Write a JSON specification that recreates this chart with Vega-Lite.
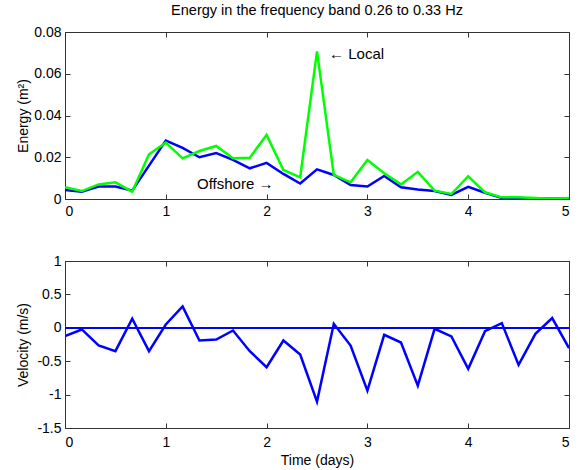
{
  "$schema": "https://vega.github.io/schema/vega-lite/v6.json",
  "background": "white",
  "padding": {"left": 16, "top": 2, "right": 13, "bottom": 5},
  "bounds": "flush",
  "spacing": 62,
  "config": {
    "font": "Liberation Sans",
    "view": {"stroke": "#333333", "strokeWidth": 1},
    "axis": {
      "grid": false,
      "domain": false,
      "tickSize": -5,
      "tickColor": "#333333",
      "labelFont": "Liberation Sans",
      "labelFontSize": 14,
      "labelColor": "black",
      "labelPadding": 9,
      "titleFont": "Liberation Sans",
      "titleFontSize": 14,
      "titleFontWeight": "normal",
      "titleColor": "black"
    },
    "title": {"font": "Liberation Sans", "fontSize": 14.5, "fontWeight": "normal", "color": "black"}
  },
  "datasets": {
    "series": [
      {"t": 0.0, "local": 0.0056, "offshore": 0.0043, "vel": -0.125},
      {"t": 0.1667, "local": 0.0038, "offshore": 0.0035, "vel": -0.025},
      {"t": 0.3333, "local": 0.007, "offshore": 0.006, "vel": -0.265},
      {"t": 0.5, "local": 0.008, "offshore": 0.006, "vel": -0.35},
      {"t": 0.6667, "local": 0.0035, "offshore": 0.004, "vel": 0.135},
      {"t": 0.8333, "local": 0.0214, "offshore": 0.016, "vel": -0.35},
      {"t": 1.0, "local": 0.027, "offshore": 0.028, "vel": 0.05},
      {"t": 1.1667, "local": 0.0195, "offshore": 0.0245, "vel": 0.32},
      {"t": 1.3333, "local": 0.023, "offshore": 0.02, "vel": -0.19},
      {"t": 1.5, "local": 0.0254, "offshore": 0.022, "vel": -0.175},
      {"t": 1.6667, "local": 0.0195, "offshore": 0.0187, "vel": -0.04},
      {"t": 1.8333, "local": 0.0198, "offshore": 0.0147, "vel": -0.35},
      {"t": 2.0, "local": 0.0307, "offshore": 0.0173, "vel": -0.59},
      {"t": 2.1667, "local": 0.0139, "offshore": 0.012, "vel": -0.19},
      {"t": 2.3333, "local": 0.0104, "offshore": 0.0074, "vel": -0.4},
      {"t": 2.5, "local": 0.0707, "offshore": 0.0142, "vel": -1.105},
      {"t": 2.6667, "local": 0.0115, "offshore": 0.0115, "vel": 0.06},
      {"t": 2.8333, "local": 0.008, "offshore": 0.0067, "vel": -0.265},
      {"t": 3.0, "local": 0.0187, "offshore": 0.006, "vel": -0.94},
      {"t": 3.1667, "local": 0.0123, "offshore": 0.011, "vel": -0.105},
      {"t": 3.3333, "local": 0.007, "offshore": 0.0056, "vel": -0.22},
      {"t": 3.5, "local": 0.013, "offshore": 0.0046, "vel": -0.865},
      {"t": 3.6667, "local": 0.004, "offshore": 0.0038, "vel": -0.015},
      {"t": 3.8333, "local": 0.0024, "offshore": 0.002, "vel": -0.13},
      {"t": 4.0, "local": 0.0109, "offshore": 0.0058, "vel": -0.615},
      {"t": 4.1667, "local": 0.0032, "offshore": 0.003, "vel": -0.05},
      {"t": 4.3333, "local": 0.0008, "offshore": 0.0005, "vel": 0.07},
      {"t": 4.5, "local": 0.0008, "offshore": 0.0004, "vel": -0.555},
      {"t": 4.6667, "local": 0.0005, "offshore": 0.0003, "vel": -0.09},
      {"t": 4.8333, "local": 0.0001, "offshore": 0.0001, "vel": 0.145},
      {"t": 5.0, "local": 0.0005, "offshore": 0.0003, "vel": -0.305}
    ],
    "labels": [
      {"t": 2.62, "e": 0.0695, "label": "← Local"},
      {"t": 1.31, "e": 0.0071, "label": "Offshore →"}
    ]
  },
  "vconcat": [
    {
      "width": 504,
      "height": 167,
      "title": {"text": "Energy in the frequency band 0.26 to 0.33 Hz", "anchor": "middle", "frame": "group", "offset": 7},
      "layer": [
        {
          "data": {"name": "series"},
          "mark": {"type": "line", "color": "#0000ff", "strokeWidth": 2.5, "clip": true},
          "encoding": {
            "x": {"field": "t", "type": "quantitative", "scale": {"domain": [0, 5], "nice": false}, "axis": {"title": null, "values": [0, 1, 2, 3, 4, 5], "format": "d", "labelPadding": 10}},
            "y": {"field": "offshore", "type": "quantitative", "scale": {"domain": [0, 0.08], "nice": false}, "axis": {"title": "Energy (m²)", "values": [0, 0.02, 0.04, 0.06, 0.08], "labelExpr": "'' + datum.value", "titlePadding": 3}}
          }
        },
        {
          "data": {"name": "series"},
          "mark": {"type": "line", "color": "#00ff00", "strokeWidth": 2.5, "clip": true},
          "encoding": {
            "x": {"field": "t", "type": "quantitative", "axis": {"orient": "top", "labels": false, "title": null, "values": [0, 1, 2, 3, 4, 5]}},
            "y": {"field": "local", "type": "quantitative", "axis": {"orient": "right", "labels": false, "title": null, "values": [0, 0.02, 0.04, 0.06, 0.08]}}
          }
        },
        {
          "data": {"name": "labels"},
          "mark": {"type": "text", "align": "left", "baseline": "middle", "fontSize": 15, "font": "Liberation Sans", "color": "black"},
          "encoding": {
            "x": {"field": "t", "type": "quantitative", "axis": null},
            "y": {"field": "e", "type": "quantitative", "axis": null},
            "text": {"field": "label"}
          }
        }
      ],
      "resolve": {"axis": {"x": "independent", "y": "independent"}}
    },
    {
      "width": 504,
      "height": 167,
      "layer": [
        {
          "data": {"name": "series"},
          "mark": {"type": "rule", "color": "#0000ff", "strokeWidth": 0.8},
          "encoding": {
            "y": {"datum": 0, "type": "quantitative", "scale": {"domain": [-1.5, 1], "nice": false}, "axis": {"title": "Velocity (m/s)", "values": [-1.5, -1, -0.5, 0, 0.5, 1], "labelExpr": "'' + datum.value", "titlePadding": 6}}
          }
        },
        {
          "data": {"name": "series"},
          "mark": {"type": "line", "color": "#0000ff", "strokeWidth": 2.5, "clip": true},
          "encoding": {
            "x": {"field": "t", "type": "quantitative", "scale": {"domain": [0, 5], "nice": false}, "axis": {"title": "Time (days)", "values": [0, 1, 2, 3, 4, 5], "format": "d", "labelPadding": 12, "titlePadding": 4}},
            "y": {"field": "vel", "type": "quantitative", "axis": {"orient": "right", "labels": false, "title": null, "values": [-1.5, -1, -0.5, 0, 0.5, 1]}}
          }
        },
        {
          "data": {"name": "series"},
          "mark": {"type": "rule", "opacity": 0},
          "encoding": {
            "x": {"datum": 0, "type": "quantitative", "axis": {"orient": "top", "labels": false, "title": null, "values": [0, 1, 2, 3, 4, 5]}}
          }
        }
      ],
      "resolve": {"axis": {"x": "independent", "y": "independent"}}
    }
  ]
}
